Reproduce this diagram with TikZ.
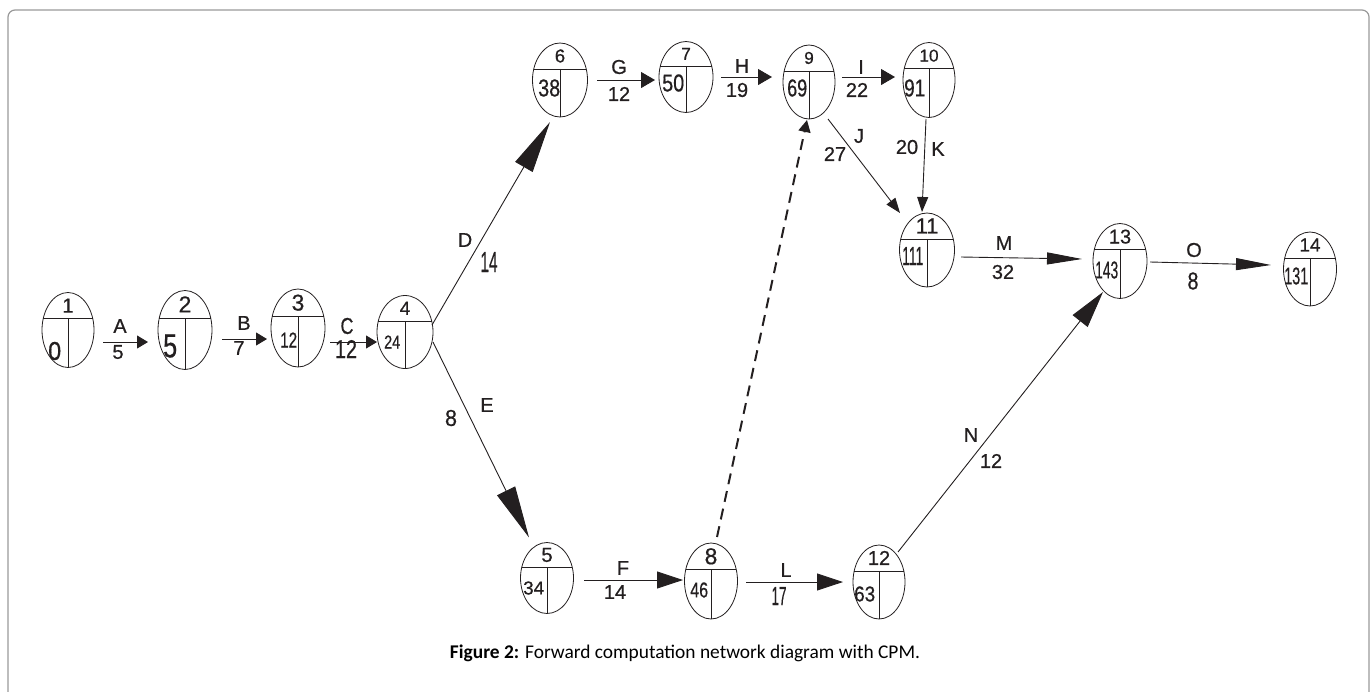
\documentclass[tikz,border=0pt]{standalone}
\usepackage{fontspec}
\setmainfont{Liberation Sans}[FakeBold=0.6]
\newfontfamily\capfont{Carlito}
\usetikzlibrary{arrows.meta,calc,shapes.geometric}
\definecolor{ink}{HTML}{231F20}
\definecolor{framec}{HTML}{999999}
\newcommand\rb[3]{\resizebox{#1pt}{#2pt}{#3}}
\newcommand\rh[2]{\resizebox{!}{#1pt}{#2}}
\tikzset{
  evt/.style={ellipse, draw=ink, line width=0.8pt, inner sep=0pt, outer sep=0pt},
  part/.style={draw=ink, line width=0.7pt},
  lbl/.style={text=ink, inner sep=0pt, font=\fontsize{20}{20}\selectfont},
  num/.style={text=ink, inner sep=0pt},
  conn/.style={draw=ink, line width=0.9pt},
  hA/.style={conn, -{Triangle[length=11pt, width=13pt]}},
  hG/.style={conn, -{Triangle[length=14pt, width=16pt]}},
  hM/.style={conn, -{Triangle[length=35pt, width=12pt]}},
  hF/.style={conn, -{Triangle[length=26pt, width=17pt]}},
  hD/.style={conn, -{Triangle[length=52pt, width=20pt]}},
  hN/.style={conn, -{Triangle[length=37pt, width=19pt]}},
  hJ/.style={conn, -{Triangle[length=15pt, width=11pt]}},
  hDash/.style={draw=ink, line width=2pt, dash pattern=on 11pt off 7pt, -{Triangle[length=12pt, width=12pt]}},
}
\newcommand\evt[6]{%
  \node[evt, minimum width=#4pt, minimum height=#5pt] (#1) at (#2,#3) {};
  \draw[part] (#2-0.477*#4, #3-0.15*#5) -- (#2+0.477*#4, #3-0.15*#5);
  \draw[part] (#2, #3-0.15*#5) -- (#2, #3+0.5*#5);
  \node[num] (#1t) at (#2, #3-0.325*#5) {#6};
}
\begin{document}
\begin{tikzpicture}[x=1pt, y=-1pt]
\useasboundingbox (0,0) rectangle (1372,691);
\draw[framec, line width=1.2pt, rounded corners=7pt] (8,10) rectangle (1369,730);

% events
\evt{n1}{68}{330}{52}{75}{\rh{14}{1}}
\evt{n2}{185}{330}{54}{79}{\rh{16}{2}}
\evt{n3}{298}{328}{54}{78}{\rh{16}{3}}
\evt{n4}{405}{332}{56}{73}{\rh{13}{4}}
\evt{n6}{560}{80}{55}{74}{\rh{13}{6}}
\evt{n7}{686}{77}{54}{71}{\rh{12}{7}}
\evt{n9}{809}{82}{52}{74}{\rh{12}{9}}
\evt{n10}{929}{80}{52}{75}{\rh{12}{10}}
\evt{n11}{927}{250}{55}{74}{\rh{15}{11}}
\evt{n13}{1120}{261}{54}{75}{\rh{14}{13}}
\evt{n14}{1310}{269}{53}{74}{\rh{13}{14}}
\evt{n5}{547}{578}{53}{71}{\rh{14}{5}}
\evt{n8}{711}{581}{53}{76}{\rh{16}{8}}
\evt{n12}{879}{582}{52}{74}{\rh{14}{12}}

% earliest times
\node[num, anchor=west] (n1b) at (48,351) {\rb{13}{18}{0}};
\node[num, anchor=west] (n2b) at (163,346) {\rb{14}{23}{5}};
\node[num, anchor=west] (n3b) at (280,340) {\rb{17}{15}{12}};
\node[num, anchor=west] (n4b) at (384,342) {\rb{16}{13}{24}};
\node[num, anchor=west] (n6b) at (538,88) {\rb{22}{17}{38}};
\node[num, anchor=west] (n7b) at (662,83) {\rb{22}{17}{50}};
\node[num, anchor=west] (n9b) at (787,88) {\rb{20}{17}{69}};
\node[num, anchor=west] (n10b) at (904,88) {\rb{21}{17}{91}};
\node[num, anchor=west] (n11b) at (902,256) {\rb{21}{18}{111}};
\node[num, anchor=west] (n13b) at (1095,270) {\rb{23}{17}{143}};
\node[num, anchor=west] (n14b) at (1284,276) {\rb{24}{17}{131}};
\node[num, anchor=west] (n5b) at (523,588) {\rb{21}{13}{34}};
\node[num, anchor=west] (n8b) at (690,590) {\rb{18}{15}{46}};
\node[num, anchor=west] (n12b) at (854,594) {\rb{21}{15}{63}};

% activities
\draw[hA] ($(n1.east)+(9,12)$) -- ($(n2.west)+(-10,12)$);
\draw[hA] ($(n2.east)+(10,9)$) -- ($(n3.west)+(-4,11)$);
\draw[hA] ($(n3.east)+(5,14)$) -- ($(n4.west)+(0,10)$);
\draw[hD] ($(n4.east)+(-1,-7)$) -- ($(n6.south)+(-10,5)$);
\draw[hD] ($(n4.east)+(0,10)$) -- ($(n5.north)+(-18,-5)$);
\draw[hG] ($(n6.east)+(9.5,0)$) -- ($(n7.west)+(-4,3)$);
\draw[hG] ($(n7.east)+(8,0)$) -- ($(n9.west)+(-11,-5)$);
\draw[hG] ($(n9.east)+(7,-5)$) -- ($(n10.west)+(-8,-3)$);
\draw[hJ] ($(n9.south)+(19,0)$) -- ($(n11.north)+(-27,0)$);
\draw[hJ] ($(n10.south)+(-3,1.5)$) -- ($(n11.north)+(-5,-1)$);
\draw[hM] ($(n11.east)+(6.5,7)$) -- ($(n13.west)+(-11,-2)$);
\draw[hM] ($(n13.east)+(3,1)$) -- ($(n14.west)+(-12.5,-4)$);
\draw[hF] ($(n5.east)+(10.5,2)$) -- ($(n8.west)+(-1.5,-1)$);
\draw[hF] ($(n8.east)+(8.5,1)$) -- ($(n12.west)+(-10,0)$);
\draw[hN] ($(n12.north)+(19,7)$) -- ($(n13.south)+(-17,-6.5)$);
\draw[hDash] ($(n8.north)+(6,-6)$) -- ($(n9.south)+(-2,1)$);

% activity labels
\node[lbl] (lA) at (120,326) {A};
\node[lbl] (dA) at (118,352) {5};
\node[lbl] (lB) at (244,323) {B};
\node[lbl] (dB) at (239,348) {7};
\node[num] (lC) at (347,326) {\rb{13}{16}{C}};
\node[num] (dC) at (346,349) {\rb{22}{18}{12}};
\node[lbl] (lD) at (465,240) {D};
\node[num] (dD) at (489,262) {\rb{17}{20}{14}};
\node[lbl] (lE) at (487,405) {E};
\node[num] (dE) at (451,418) {\rb{12}{16}{8}};
\node[lbl] (lF) at (623,568) {F};
\node[lbl] (dF) at (615,592) {14};
\node[lbl] (lG) at (619,67) {G};
\node[lbl] (dG) at (619,94) {12};
\node[lbl] (lH) at (742,66) {H};
\node[lbl] (dH) at (737,90) {19};
\node[lbl] (lI) at (861,67) {I};
\node[lbl] (dI) at (857,90) {22};
\node[lbl] (lJ) at (859,136) {J};
\node[lbl] (dJ) at (835,154) {27};
\node[lbl] (lK) at (938,149) {K};
\node[lbl] (dK) at (907,147) {20};
\node[lbl] (lL) at (786,570) {L};
\node[num] (dL) at (779,596) {\rb{15}{18}{17}};
\node[lbl] (lM) at (1004,243) {M};
\node[lbl] (dM) at (1003,272) {32};
\node[lbl] (lN) at (971,435) {N};
\node[lbl] (dN) at (991,461) {12};
\node[lbl] (lO) at (1194,250) {O};
\node[num] (dO) at (1193,281) {\rb{11}{17}{8}};

% caption
\node[inner sep=0pt, font=\capfont\fontsize{19.4}{23}\selectfont] (cap) at (685,653)
  {\textbf{Figure 2:} Forward computation network diagram with CPM.};
\end{tikzpicture}
\end{document}
